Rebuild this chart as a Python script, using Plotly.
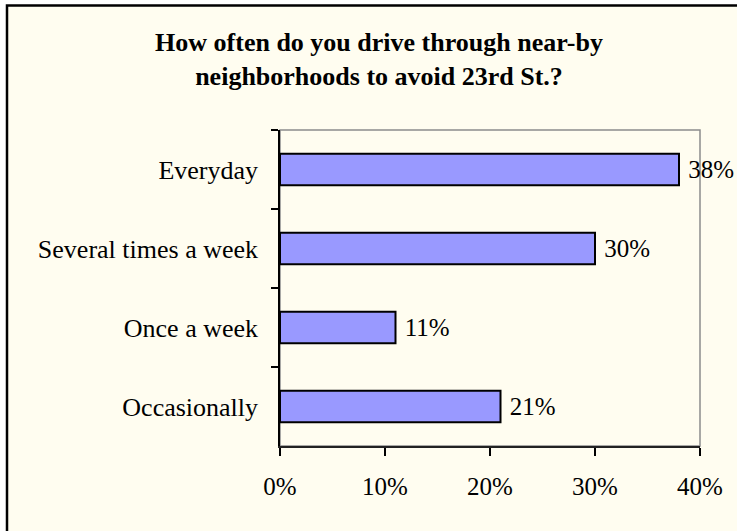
import plotly.graph_objects as go

categories = ["Everyday", "Several times a week", "Once a week", "Occasionally"]
values = [38, 30, 11, 21]
x_ticks = [0, 10, 20, 30, 40]
x_tick_labels = ["0%", "10%", "20%", "30%", "40%"]
title_text = "How often do you drive through near-by<br>neighborhoods to avoid 23rd St.?"

W, H = 737, 531
L, R, T, B = 280, 700, 130, 446  # plot area pixel box

def px_x(p):
    return (p - L) / (R - L)

def px_y(p):
    return (B - p) / (B - T)

FONT = "Liberation Serif, Times New Roman, serif"
CREAM = "#FFFDF0"

fig = go.Figure()
fig.add_trace(go.Bar(
    y=categories,
    x=values,
    orientation="h",
    marker=dict(color="#9999FF", line=dict(color="black", width=2)),
    text=[f" {v}%" for v in values],
    textposition="outside",
    textfont=dict(family=FONT, size=25, color="black"),
    constraintext="none",
    cliponaxis=False,
    hoverinfo="skip",
))

fig.update_layout(
    width=W, height=H,
    margin=dict(l=L, r=W - R, t=T, b=H - B, pad=0),
    paper_bgcolor="white",
    plot_bgcolor="rgba(0,0,0,0)",
    bargap=0.6,
    showlegend=False,
    font=dict(family=FONT, color="black"),
    title=dict(
        text=title_text,
        font=dict(family=FONT, size=26, color="black", weight="bold"),
        xref="container", x=379 / W, xanchor="center",
        yref="container", y=1 - 51 / H, yanchor="top",
    ),
    shapes=[
        dict(type="rect", xref="paper", yref="paper",
             x0=px_x(7), x1=px_x(780), y0=px_y(580), y1=px_y(5.5),
             fillcolor=CREAM, line=dict(color="black", width=2.5), layer="below"),
        dict(type="rect", xref="paper", yref="paper",
             x0=0, x1=1, y0=0, y1=1,
             fillcolor="rgba(0,0,0,0)", line=dict(color="#8c8c8c", width=1.5), layer="below"),
    ],
)

fig.update_xaxes(
    range=[0, 40],
    tickvals=x_ticks, ticktext=x_tick_labels,
    showgrid=False, zeroline=False,
    showline=True, linecolor="#222222", linewidth=2,
    ticks="outside", ticklen=8, tickcolor="black", tickwidth=1.5,
    tickfont=dict(family=FONT, size=25, color="black"),
    ticklabelstandoff=9,
    fixedrange=True,
)
fig.update_yaxes(
    type="category",
    categoryorder="array", categoryarray=categories,
    autorange="reversed",
    tickson="boundaries",
    showgrid=False, zeroline=False,
    showline=True, linecolor="black", linewidth=1.5,
    ticks="outside", ticklen=7, tickcolor="black", tickwidth=1.5,
    tickfont=dict(family=FONT, size=26, color="black"),
    ticklabelstandoff=15,
    fixedrange=True,
)

fig.write_html(
    "out.html",
    config={"displayModeBar": False},
    post_script="document.body.style.margin='0';document.body.style.overflow='hidden';",
)
